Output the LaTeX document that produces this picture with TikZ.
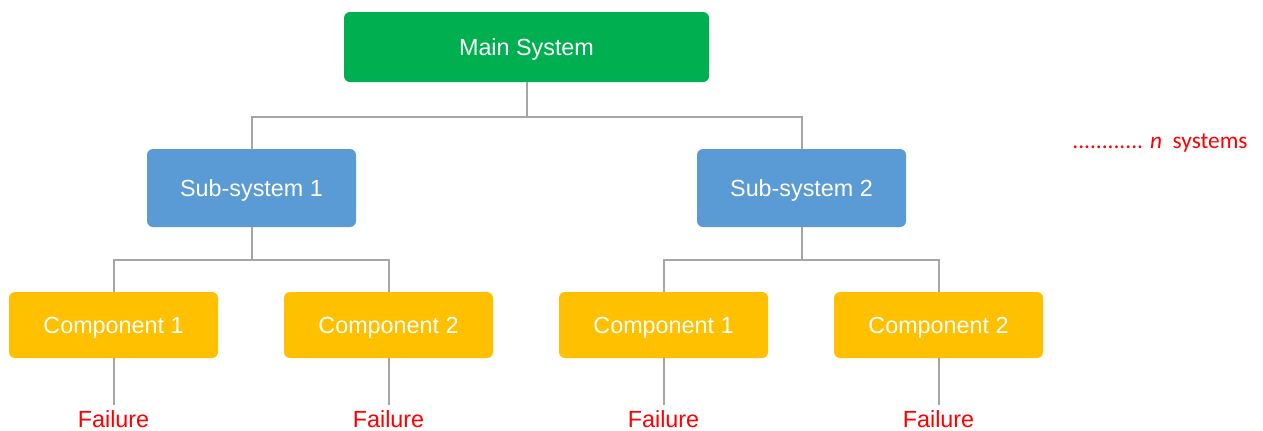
\documentclass[tikz,border=0pt]{standalone}
\usepackage{fontspec}
\setmainfont{Liberation Sans}
\newfontfamily\calibri{Carlito}
\definecolor{maingreen}{HTML}{00B050}
\definecolor{subblue}{HTML}{5B9BD5}
\definecolor{compgold}{HTML}{FFC000}
\definecolor{linegray}{HTML}{A6A6A6}
\definecolor{failred}{HTML}{FF0000}
\tikzset{
  box/.style={rounded corners=4.5pt,text=white,font=\fontsize{17.5}{20}\selectfont,inner sep=0pt,text depth=0pt},
  mainbox/.style={box,fill=maingreen,minimum width=273.75pt,minimum height=52.5pt},
  subbox/.style={box,fill=subblue,minimum width=156.75pt,minimum height=58.5pt},
  compbox/.style={box,fill=compgold,minimum width=156.75pt,minimum height=49.5pt},
  fail/.style={text=failred,font=\fontsize{17.5}{20}\selectfont,inner xsep=0pt,inner ysep=4pt,text depth=0pt},
  link/.style={draw=linegray,line width=1.5pt}
}

\begin{document}
\begin{tikzpicture}[x=0.75pt,y=-0.75pt]
            \useasboundingbox (0,0) rectangle (1263,430);
            \node[mainbox] (main) at (526.5,47) {Main System};
            \node[subbox] (sub1) at (251.5,188) {Sub-system 1};
            \node[subbox] (sub2) at (801.5,188) {Sub-system 2};
            \node[compbox] (comp1) at (113.5,325) {Component 1};
            \node[compbox] (comp2) at (388.5,325) {Component 2};
            \node[compbox] (comp3) at (663.5,325) {Component 1};
            \node[compbox] (comp4) at (938.5,325) {Component 2};
            \node[fail] (fail1) at (113.5,419) {Failure};
            \node[fail] (fail2) at (388.5,419) {Failure};
            \node[fail] (fail3) at (663.5,419) {Failure};
            \node[fail] (fail4) at (938.5,419) {Failure};
            \node[text=failred,font=\calibri\fontsize{17.5}{20}\selectfont,text depth=0pt] (nsys) at (1160,141) {............ \textit{n}\ \ systems};
            \draw[link] (main.south) -- ++(0,35) -| (sub1.north);
            \draw[link] (main.south) -- ++(0,35) -| (sub2.north);
            \draw[link] (sub1.south) -- ++(0,33) -| (comp1.north);
            \draw[link] (sub1.south) -- ++(0,33) -| (comp2.north);
            \draw[link] (sub2.south) -- ++(0,33) -| (comp3.north);
            \draw[link] (sub2.south) -- ++(0,33) -| (comp4.north);
            \draw[link] (comp1.south) -- (fail1.north);
            \draw[link] (comp2.south) -- (fail2.north);
            \draw[link] (comp3.south) -- (fail3.north);
            \draw[link] (comp4.south) -- (fail4.north);
        \end{tikzpicture}
\end{document}
